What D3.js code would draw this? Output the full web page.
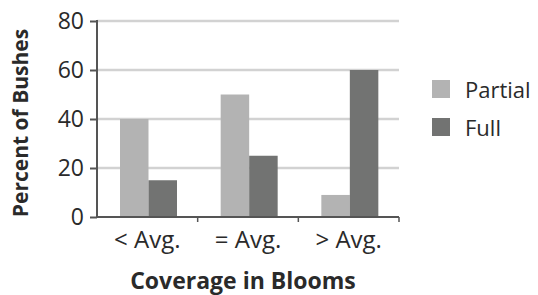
<!DOCTYPE html>
<html>
<head>
<meta charset="utf-8">
<script src="https://cdn.jsdelivr.net/npm/d3@7"></script>
<style>
  body { margin: 0; background: #fff; }
  text { font-family: "Open Sans", sans-serif; fill: #2a2a2a; }
</style>
</head>
<body>
<svg width="538" height="295"></svg>
<script>
// data
var categories = ["< Avg.", "= Avg.", "> Avg."];
var series = ["Partial", "Full"];
var partial = [40, 50, 9];
var full = [15, 25, 60];
var yTicks = [0, 20, 40, 60, 80];
var colors = ["#b3b3b3", "#727372"];

var svg = d3.select("svg");

var plotLeft = 97, plotRight = 399, plotTop = 21, plotBottom = 217;

var x = d3.scaleBand().domain(categories).range([plotLeft, plotRight]);
var xSub = d3.scaleBand().domain(series).range([23, 80]);
var y = d3.scaleLinear().domain([0, 80]).range([plotBottom, plotTop]);

var rows = categories.map(function(c, i) {
  return { cat: c, values: [partial[i], full[i]] };
});

// gridlines
svg.append("g").selectAll("line")
  .data(yTicks.filter(function(d) { return d > 0; }))
  .enter().append("line")
  .attr("x1", plotLeft).attr("x2", plotRight)
  .attr("y1", function(d) { return y(d); })
  .attr("y2", function(d) { return y(d); })
  .attr("stroke", "#d2d2d2")
  .attr("stroke-width", 2.5);

// bars
svg.append("g").selectAll("g")
  .data(rows)
  .enter().append("g")
  .attr("transform", function(d) { return "translate(" + x(d.cat) + ",0)"; })
  .selectAll("rect")
  .data(function(d) { return d.values.map(function(v, i) { return { key: series[i], value: v, i: i }; }); })
  .enter().append("rect")
  .attr("x", function(d) { return xSub(d.key); })
  .attr("width", xSub.bandwidth())
  .attr("y", function(d) { return y(d.value); })
  .attr("height", function(d) { return y(0) - y(d.value); })
  .attr("fill", function(d) { return colors[d.i]; });

// y axis
var yAxis = svg.append("g")
  .attr("transform", "translate(" + plotLeft + ",0)")
  .call(d3.axisLeft(y).tickValues(yTicks).tickSize(7).tickPadding(6));
yAxis.select(".domain").attr("stroke", "#555").attr("stroke-width", 2).attr("d", "M0," + (plotTop - 1) + "V" + plotBottom);
yAxis.selectAll(".tick line").attr("stroke", "#555").attr("stroke-width", 2);
yAxis.selectAll(".tick text")
  .style("font-family", "'Open Sans', sans-serif")
  .style("font-size", "23px")
  .attr("fill", "#2a2a2a");

// x axis
var xAxis = svg.append("g")
  .attr("transform", "translate(0," + plotBottom + ")")
  .call(d3.axisBottom(x).tickSize(0).tickPadding(14));
xAxis.select(".domain").attr("stroke", "#555").attr("stroke-width", 2).attr("d", "M" + plotLeft + ",0H" + plotRight);
xAxis.selectAll(".tick text")
  .style("font-family", "'Open Sans', sans-serif")
  .style("font-size", "24px")
  .attr("fill", "#2a2a2a");

// small ticks between the bands
svg.append("g").selectAll("line")
  .data(categories.slice(1).concat(["end"]))
  .enter().append("line")
  .attr("x1", function(d) { return d == "end" ? plotRight : x(d); })
  .attr("x2", function(d) { return d == "end" ? plotRight : x(d); })
  .attr("y1", plotBottom).attr("y2", plotBottom + 5)
  .attr("stroke", "#555").attr("stroke-width", 1.5);

// axis titles
svg.append("text")
  .attr("x", 243).attr("y", 289)
  .attr("text-anchor", "middle")
  .style("font-size", "23px").style("font-weight", "bold")
  .text("Coverage in Blooms");

svg.append("text")
  .attr("transform", "translate(28,123) rotate(-90)")
  .attr("text-anchor", "middle")
  .style("font-size", "21px").style("font-weight", "bold")
  .text("Percent of Bushes");

// legend
var legend = svg.append("g").selectAll("g")
  .data(series)
  .enter().append("g")
  .attr("transform", function(d, i) { return "translate(432," + (80 + i * 38) + ")"; });
legend.append("rect")
  .attr("width", 18).attr("height", 18)
  .attr("fill", function(d, i) { return colors[i]; });
legend.append("text")
  .attr("x", 33).attr("y", 18)
  .style("font-size", "22px")
  .text(function(d) { return d; });
</script>
</body>
</html>
